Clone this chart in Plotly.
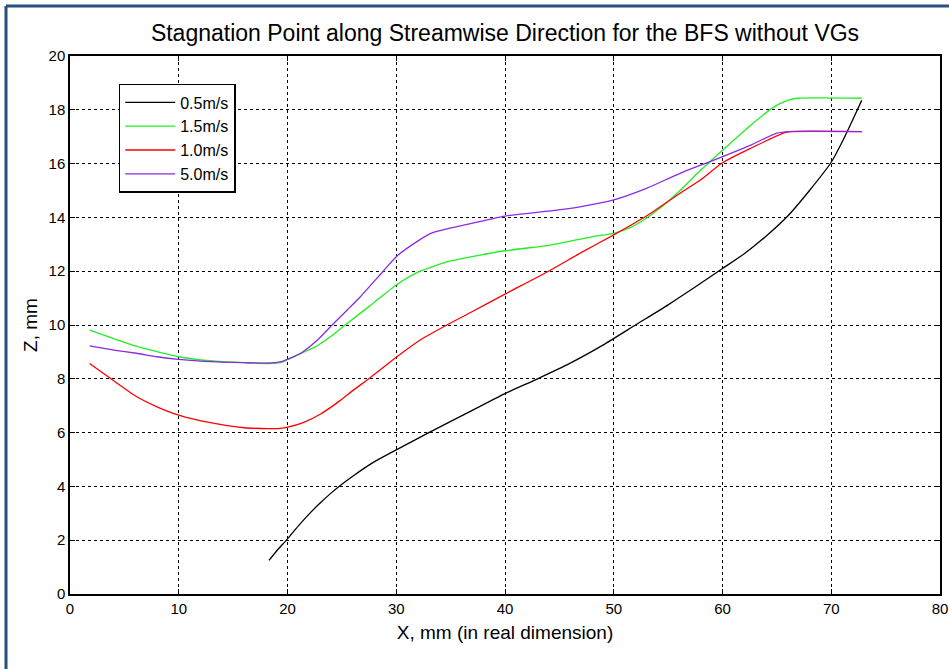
import plotly.graph_objects as go

# ---- data ----
x_05 = [18.3, 19, 20, 21, 22, 23, 24, 25, 26, 28, 30, 33, 36, 40, 43, 46, 49, 52, 55, 58, 60, 62, 64, 66, 68, 70, 71, 72, 72.8]
z_05 = [1.25, 1.6, 2.05, 2.53, 2.98, 3.38, 3.75, 4.08, 4.38, 4.92, 5.36, 6.0, 6.62, 7.45, 8.0, 8.58, 9.25, 10.0, 10.75, 11.55, 12.1, 12.65, 13.3, 14.05, 15.0, 16.05, 16.8, 17.65, 18.35]

x_15 = [1.8, 3.7, 6, 8, 10, 12.3, 14, 16, 18.5, 19.5, 20, 21, 22.7, 24, 25.3, 27.6, 30, 32.2, 35, 40, 44.2, 48, 50, 51.5, 53, 54.5, 56, 58, 60, 62.6, 64.7, 66, 66.9, 72.8]
z_15 = [9.81, 9.54, 9.22, 9.01, 8.82, 8.69, 8.64, 8.6, 8.57, 8.62, 8.72, 8.9, 9.22, 9.58, 10.0, 10.72, 11.49, 12.0, 12.38, 12.76, 12.97, 13.28, 13.41, 13.62, 13.97, 14.42, 14.96, 15.76, 16.5, 17.43, 18.1, 18.35, 18.43, 18.43]

x_10 = [1.8, 3.7, 6.1, 8, 10, 12.9, 16, 19.1, 20, 21.5, 23, 24.8, 26, 27.6, 30, 32.2, 34.65, 37, 40, 44, 47, 50, 53, 56.1, 58, 60, 62.6, 65.6, 66.2, 72.8]
z_10 = [8.57, 8.02, 7.34, 6.96, 6.65, 6.37, 6.18, 6.15, 6.2, 6.38, 6.68, 7.18, 7.56, 8.04, 8.8, 9.44, 10.0, 10.5, 11.15, 12.0, 12.69, 13.35, 14.05, 14.9, 15.4, 16.03, 16.57, 17.13, 17.19, 17.19]

x_50 = [1.8, 4, 6.1, 8, 10, 12.3, 16, 18.5, 19.6, 20, 21.3, 22.7, 24.1, 25.5, 26.7, 28.8, 30, 31.9, 33.4, 36.5, 40, 44.2, 47, 50, 53, 56.1, 59.2, 62.6, 65, 66.2, 72.8]
z_50 = [9.22, 9.07, 8.95, 8.82, 8.72, 8.65, 8.6, 8.59, 8.66, 8.72, 8.97, 9.42, 10.0, 10.56, 11.05, 12.0, 12.54, 13.1, 13.44, 13.74, 14.05, 14.24, 14.4, 14.65, 15.08, 15.64, 16.13, 16.69, 17.13, 17.19, 17.19]

series_names = ["0.5m/s", "1.5m/s", "1.0m/s", "5.0m/s"]
series_colors = ["#000000", "#22EE22", "#FF0000", "#8A2BE2"]
x_ticks = [0, 10, 20, 30, 40, 50, 60, 70, 80]
y_ticks = [0, 2, 4, 6, 8, 10, 12, 14, 16, 18, 20]

FONT = "Liberation Sans, Arial, sans-serif"

fig = go.Figure()
for xs, zs, name, col in zip([x_05, x_15, x_10, x_50], [z_05, z_15, z_10, z_50], series_names, series_colors):
    fig.add_trace(go.Scatter(x=xs, y=zs, mode="lines", name=name,
                             line=dict(color=col, width=1.3, shape="spline", smoothing=0.6)))

axis_common = dict(
    showline=True, linecolor="black", linewidth=1.5, mirror="ticks",
    ticks="inside", ticklen=5, tickcolor="black", tickwidth=1,
    showgrid=True, gridcolor="black", gridwidth=1, griddash="dot",
    zeroline=False, automargin=False,
    tickfont=dict(family=FONT, size=15, color="black"),
)

fig.update_layout(
    width=949, height=669,
    margin=dict(l=70, r=9, t=56, b=75, autoexpand=False),
    paper_bgcolor="white", plot_bgcolor="white",
    title=dict(text="Stagnation Point along Streamwise Direction for the BFS without VGs",
               x=0.5, xref="paper", xanchor="center", y=0.951, yanchor="middle",
               font=dict(family=FONT, size=23, color="black")),
    xaxis=dict(range=[0, 80], tickvals=x_ticks, **axis_common,
               title=dict(text="X, mm (in real dimension)", font=dict(family=FONT, size=19, color="black"), standoff=10)),
    yaxis=dict(range=[0, 20], tickvals=y_ticks, **axis_common,
               title=dict(text="Z, mm", font=dict(family=FONT, size=19, color="black"), standoff=6)),
    legend=dict(x=0.056, y=0.948, xanchor="left", yanchor="top",
                bgcolor="white", bordercolor="black", borderwidth=1.5, itemwidth=50,
                font=dict(family=FONT, size=16, color="black"), tracegroupgap=4),
    showlegend=True,
)

# blue frame on the left and top edges of the picture
fig.add_shape(type="line", xref="paper", yref="paper", x0=(6 - 70) / 870, x1=(949 - 70) / 870,
              y0=(594 - 6) / 538, y1=(594 - 6) / 538, line=dict(color="#2A4F7F", width=3))
fig.add_shape(type="line", xref="paper", yref="paper", x0=(6 - 70) / 870, x1=(6 - 70) / 870,
              y0=(594 - 6) / 538, y1=(594 - 669) / 538, line=dict(color="#2A4F7F", width=3))

fig.write_html("out.html")
